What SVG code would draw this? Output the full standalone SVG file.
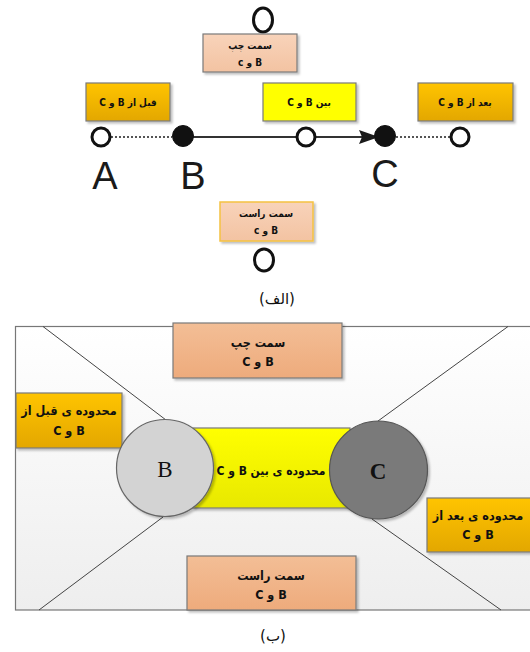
<svg xmlns="http://www.w3.org/2000/svg" width="530" height="652" viewBox="0 0 530 652">
<defs>
<linearGradient id="gPeachA" x1="0" y1="0" x2="0" y2="1"><stop offset="0" stop-color="#F8D3BA"/><stop offset="1" stop-color="#F3C3A2"/></linearGradient>
<linearGradient id="gPeachB" x1="0" y1="0" x2="0" y2="1"><stop offset="0" stop-color="#F3BE96"/><stop offset="1" stop-color="#EEAB7C"/></linearGradient>
<linearGradient id="gGold" x1="0" y1="0" x2="0" y2="1"><stop offset="0" stop-color="#FFC400"/><stop offset="1" stop-color="#E3A700"/></linearGradient>
<linearGradient id="gYellow" x1="0" y1="0" x2="0" y2="1"><stop offset="0" stop-color="#FFFF00"/><stop offset="1" stop-color="#E8E800"/></linearGradient>
<linearGradient id="gBg" x1="0" y1="0" x2="0" y2="1"><stop offset="0" stop-color="#FFFFFF"/><stop offset="1" stop-color="#EEEEEE"/></linearGradient>
<filter id="sh" x="-10%" y="-10%" width="125%" height="130%"><feDropShadow dx="2" dy="2" stdDeviation="1.2" flood-color="#000" flood-opacity="0.25"/></filter>
<marker id="arr" viewBox="0 0 20 14" refX="19" refY="7" markerWidth="20" markerHeight="14" markerUnits="userSpaceOnUse" orient="auto"><path d="M0,0 L20,7 L0,14 L3,7 z" fill="#1a1a1a"/></marker>
</defs>
<style>
.box{stroke:#7a7a7a;stroke-width:1.2;filter:url(#sh)}
.fa{font-family:"DejaVu Sans Condensed","DejaVu Sans",sans-serif;font-stretch:condensed;font-weight:bold;fill:#111;text-anchor:middle;direction:rtl;unicode-bidi:embed}
.s1{font-size:10px}
.s2{font-size:12.5px}
.s3{font-size:12px}
.open{fill:#fff;stroke:#111;stroke-width:3}
.dot{fill:#111;stroke:#111;stroke-width:1}
.lbl{font-family:"Liberation Sans",sans-serif;font-size:38px;fill:#1a1a1a;text-anchor:middle}
.cap{font-family:"DejaVu Sans",sans-serif;font-size:15px;fill:#111;text-anchor:middle;direction:rtl;unicode-bidi:embed}
.diag{stroke:#444;stroke-width:1;fill:none}
</style>

<!-- Part (a) -->
<g id="connectors-a">
<line x1="111" y1="137" x2="172" y2="137" stroke="#555" stroke-width="2.2" stroke-dasharray="2,2"/>
<line x1="396" y1="137" x2="450" y2="137" stroke="#555" stroke-width="2.2" stroke-dasharray="2,2"/>
<line x1="193" y1="137" x2="378" y2="137" stroke="#333" stroke-width="2" marker-end="url(#arr)"/>
</g>
<g id="point-top"><ellipse class="open" cx="263" cy="20" rx="9.5" ry="12"/></g>
<g id="box-left-a"><rect class="box" x="203" y="34" width="94" height="38" fill="url(#gPeachA)"/><text class="fa s1" x="250" y="49">سمت چپ</text><text class="fa s1" x="250" y="66">B و c</text></g>
<g id="box-before-a"><rect class="box" x="86" y="83" width="84" height="38" fill="url(#gGold)"/><text class="fa s1" x="128" y="106">قبل از B و C</text></g>
<g id="box-between-a"><rect class="box" x="263" y="83" width="93" height="38" fill="#FFFF00"/><text class="fa s1" x="309" y="106">بین B و C</text></g>
<g id="box-after-a"><rect class="box" x="418" y="83" width="95" height="38" fill="url(#gGold)"/><text class="fa s1" x="465" y="106">بعد از B و C</text></g>
<g id="point-A"><circle class="open" cx="101" cy="137" r="9"/><text class="lbl" x="105" y="189">A</text></g>
<g id="point-B"><circle class="dot" cx="183" cy="136" r="10.5"/><text class="lbl" x="193" y="189">B</text></g>
<g id="point-mid"><circle class="open" cx="306" cy="137" r="9"/></g>
<g id="point-C"><circle class="dot" cx="385" cy="136" r="10.5"/><text class="lbl" x="385" y="187">C</text></g>
<g id="point-right"><circle class="open" cx="460" cy="137" r="9"/></g>
<g id="box-right-a"><rect x="220" y="202" width="93" height="39" fill="url(#gPeachA)" stroke="#F5C242" stroke-width="1.5" filter="url(#sh)"/><text class="fa s1" x="266" y="217">سمت راست</text><text class="fa s1" x="266" y="234">B و c</text></g>
<g id="point-bottom"><ellipse class="open" cx="264" cy="260" rx="9.5" ry="11"/></g>
<text class="cap" x="277" y="304">(الف)</text>

<!-- Part (b) -->
<g id="region-bg"><rect x="15.5" y="326.5" width="520" height="283.5" fill="url(#gBg)" stroke="#777" stroke-width="1.2"/></g>
<g id="connectors-b">
<line class="diag" x1="43" y1="326.5" x2="166" y2="420"/>
<line class="diag" x1="508" y1="326.5" x2="378" y2="421"/>
<line class="diag" x1="163" y1="517" x2="39" y2="610"/>
<line class="diag" x1="372" y1="519" x2="501" y2="610"/>
</g>
<g id="box-left-b"><rect class="box" x="173" y="323" width="169" height="55" fill="url(#gPeachB)" stroke="#555"/><text class="fa s2" x="258" y="347">سمت چپ</text><text class="fa s2" x="258" y="366">B و C</text></g>
<g id="box-before-b"><rect class="box" x="16" y="393" width="106" height="55" fill="url(#gGold)"/><text class="fa s2" x="69" y="415">محدوده ی قبل از</text><text class="fa s2" x="69" y="435">B و C</text></g>
<g id="box-between-b"><rect class="box" x="193" y="428" width="157" height="80" fill="url(#gYellow)"/></g>
<g id="circle-B"><circle cx="165" cy="468" r="48.5" fill="#D3D3D3" stroke="#666" stroke-width="1.2" filter="url(#sh)"/><text x="165" y="477" font-family="Liberation Serif, serif" font-size="23" fill="#111" text-anchor="middle">B</text></g>
<g id="circle-C"><circle cx="378.5" cy="470" r="49" fill="#7A7A7A" stroke="#555" stroke-width="1.2" filter="url(#sh)"/><text x="378" y="479" font-family="Liberation Serif, serif" font-size="23" font-weight="bold" fill="#111" text-anchor="middle">C</text></g>
<g id="label-between-b"><text class="fa s3" x="271" y="475">محدوده ی بین B و C</text></g>
<g id="box-after-b"><rect class="box" x="427" y="498" width="110" height="54" fill="url(#gGold)"/><text class="fa s2" x="478" y="520">محدوده ی بعد از</text><text class="fa s2" x="478" y="539">B و C</text></g>
<g id="box-right-b"><rect class="box" x="187" y="556" width="169" height="54" fill="url(#gPeachB)" stroke="#555"/><text class="fa s2" x="271" y="580">سمت راست</text><text class="fa s2" x="271" y="599">B و C</text></g>
<text class="cap" x="273" y="641">(ب)</text>
</svg>
